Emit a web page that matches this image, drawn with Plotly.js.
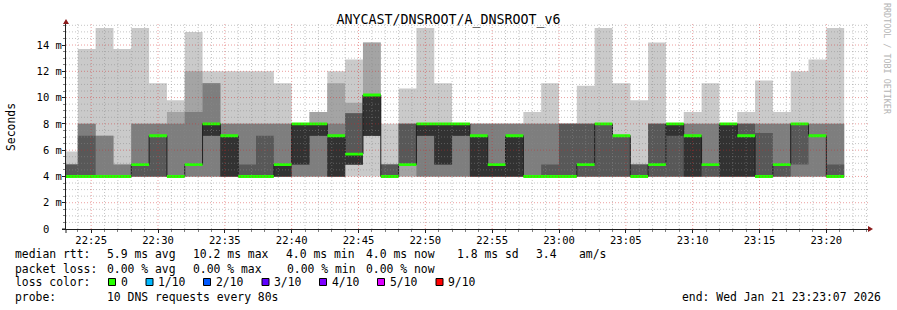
<!DOCTYPE html>
<html>
<head>
<meta charset="utf-8">
<script src="https://cdn.plot.ly/plotly-3.0.1.min.js"></script>
<style>
html,body{margin:0;padding:0;background:#ffffff;}
#chart{width:897px;height:310px;}
</style>
</head>
<body>
<div id="chart"></div>
<script>
// ---------------- data ----------------
const chartTitle = 'ANYCAST/DNSROOT/A_DNSROOT_v6';
const firstIntervalStart = '2026-01-21T22:22:40Z';
const stepSeconds = 80;
const viewStart = '2026-01-21T22:23:07Z';
const viewEnd = '2026-01-21T23:23:07Z';

// ten sorted DNS round-trip times (ms) per 80 s interval, rank 1 (fastest) .. rank 10 (slowest)
const ping1 = [4,4,4,4,4,4,4,4,4,4,4,4,4,4,4,4,4,4,4,4,4,4,4,4,4,4,4,4,4,4,4,4,4,4,4,4,4,4,4,4,4,4,4,4];
const ping2 = [4,4,4,4,4,4,4,4,4,4,4,4,4,4,4,4,4.9,7.1,4,4,4,4,4,4,4,4,4,4,4,4,4,4,4,4,4,4,4,4,4,4,4,4,4,4];
const ping3 = [4,4,4,4,4,4,4,4,4,4,4,4,4,4,4,4,4.9,7.1,4,4.9,4,4,4,4,4,4,4,4,4,4,4,4,4,4,4,4,4,4,4,4,4,4,4,4];
const ping4 = [4,4,4,4,4,4,4,4.9,7.1,4,4,4,4,4.9,7.1,4,4.9,7.1,4,4.9,7.1,4.9,7.1,4,4,4,4,4,4,4,4,4,4,4,4,4,4,4,4,4,4,4.9,7.1,4];
const ping5 = [4,4,4,4,4.9,7.1,4,4.9,7.1,4,4,4,4,4.9,7.1,4,4.9,7.1,4,4.9,7.1,4.9,7.1,4,4,4,4,4,4,4.9,8,7.1,4,4.9,7.1,4,4.9,4,4,4,4.9,8,7.1,4];
const ping6 = [4,4,4,4,4.9,7.1,4,4.9,8,7.1,4,4,4.9,8,8,7.1,5.7,10.2,4,4.9,8,8,8,7.1,4.9,7.1,4,4,4,4.9,8,7.1,4,4.9,8,7.1,4.9,8,7.1,4,4.9,8,7.1,4];
const ping7 = [4.9,7.1,4,4,4.9,7.1,4,4.9,8,7.1,4.9,7.1,4.9,8,8,7.1,8.8,10.2,4.9,8,8,8,8,7.1,4.9,7.1,4,4.9,8,8,8,7.1,4.9,8,8,7.1,4.9,8,8,7.3,4.9,8,7.1,4.9];
const ping8 = [4.9,8,7.1,4.9,8,8,8,8.9,11.1,8,8,8,8,8,8,8,8.8,10.2,4.9,8,8,8,8,8,8,8,8,8,8,8,8,7.1,4.9,8,8,8,8,8,8,8,8,8,8,8];
const ping9 = [4.9,8,7.1,4.9,8,8,8.9,12,11.1,8,8,8,8,8,8.9,11.1,9.6,14.2,4.9,8,8,8,8,8,8,8,8,8,8,8,8,7.1,4.9,8,8,8,8,8,8,8,8,8,8,8];
const ping10 = [5.9,13.7,15.3,13.7,15.3,11.1,9.8,15.0,12,12,12,12,11.1,8,8.9,12,12.9,14.2,8,10.7,15.3,11.1,8,8,8,8,8.9,11.1,8,10.9,15.3,11.1,9.8,14.2,8,8.9,11.1,8,8.9,11.3,8.9,12,12.9,15.3];
// median rtt (ms) per interval
const medianRtt = [4,4,4,4,4.9,7.1,4,4.9,8,7.1,4,4,4.9,8,8,7.1,5.7,10.2,4,4.9,8,8,8,7.1,4.9,7.1,4,4,4,4.9,8,7.1,4,4.9,8,7.1,4.9,8,7.1,4,4.9,8,7.1,4];

const yTickLabels = ['0\u00a0\u00a0','2 m','4 m','6 m','8 m','10 m','12 m','14 m'];

const rttStatValues = ['5.9','10.2','4.0','4.0','1.8'];
const rttStatUnits = ['ms avg','ms max','ms min','ms now','ms sd'];
const amPerSecond = '3.4';
const lossStatValues = ['0.00','0.00','0.00','0.00'];
const lossStatUnits = ['% avg','% max','% min','% now'];
const lossLabels = ['0','1/10','2/10','3/10','4/10','5/10','9/10'];
const lossColors = ['#26ff00','#00b8ff','#0059ff','#5e00ff','#7e00ff','#dd00ff','#ff0000'];
const probeText = '10 DNS requests every 80s';
const endText = 'end: Wed Jan 21 23:23:07 2026';
const creditText = 'RRDTOOL / TOBI OETIKER';

// ---------------- layout constants ----------------
const W = 897, H = 310;
const ML = 66, MR = 29, MT = 24, MB = 81;
const PW = W - ML - MR, PH = H - MT - MB;
const yMax = 15.6;
const FONT = 'DejaVu Sans Mono';
const px2x = px => (px - ML) / PW;
const py2y = py => (H - MB - py) / PH;

const smokeColors = ['#cacaca','#a4a4a4','#7e7e7e','#585858','#323232'];
const medianHalfWidth = 0.11;

// ---------------- traces ----------------
const t0 = Date.parse(firstIntervalStart);
const nIv = ping1.length;
const xs = [];
for (let i = 0; i <= nIv; i++) xs.push(t0 + i * stepSeconds * 1000);
const ext = a => a.concat([a[a.length - 1]]);

const pings = [ping1,ping2,ping3,ping4,ping5,ping6,ping7,ping8,ping9,ping10];
const traces = [];
const base = {x: xs, type: 'scatter', mode: 'lines', hoverinfo: 'skip', showlegend: false};
for (let b = 0; b < 5; b++) {
  traces.push(Object.assign({}, base, {y: ext(pings[b]), line: {width: 0, shape: 'hv'}}));
  traces.push(Object.assign({}, base, {y: ext(pings[9 - b]), line: {width: 0, shape: 'hv'},
    fill: 'tonexty', fillcolor: smokeColors[b]}));
}
traces.push(Object.assign({}, base, {y: ext(medianRtt), line: {width: 1, shape: 'hv', color: '#202020'}}));
traces.push(Object.assign({}, base, {y: ext(medianRtt.map(v => v - medianHalfWidth)), line: {width: 0, shape: 'hv'}}));
traces.push(Object.assign({}, base, {y: ext(medianRtt.map(v => v + medianHalfWidth)), line: {width: 0, shape: 'hv'},
  fill: 'tonexty', fillcolor: lossColors[0]}));

// ---------------- grid (drawn above data, as rrdtool does) ----------------
const minorGrid = 'rgba(140,140,140,0.5)';
const majorGrid = 'rgba(210,40,40,0.45)';
const shapes = [];
for (let k = 1; k * 0.5 <= yMax; k++) {
  const v = k * 0.5;
  shapes.push({type: 'line', xref: 'paper', x0: 0, x1: 1, yref: 'y', y0: v, y1: v, layer: 'above',
    line: {color: k % 4 === 0 ? majorGrid : minorGrid, width: 1, dash: '1px,2px'}});
}
const r0 = Date.parse(viewStart), r1 = Date.parse(viewEnd);
for (let t = Math.ceil(r0 / 60000) * 60000; t <= r1; t += 60000) {
  const major = (t / 60000) % 5 === 0;
  shapes.push({type: 'line', yref: 'paper', y0: 0, y1: 1, xref: 'x', x0: t, x1: t, layer: 'above',
    line: {color: major ? majorGrid : minorGrid, width: 1, dash: '1px,2px'}});
}
// axis overshoots and arrows
shapes.push({type: 'line', xref: 'paper', xsizemode: 'pixel', xanchor: 0, x0: -4, x1: 0,
  yref: 'paper', y0: 0, y1: 0, line: {color: '#202020', width: 1}, layer: 'above'});
shapes.push({type: 'line', yref: 'paper', ysizemode: 'pixel', yanchor: 0, y0: -4, y1: 0,
  xref: 'paper', x0: 0, x1: 0, line: {color: '#202020', width: 1}, layer: 'above'});
shapes.push({type: 'line', yref: 'paper', ysizemode: 'pixel', yanchor: 1, y0: 0, y1: 2,
  xref: 'paper', x0: 0, x1: 0, line: {color: '#202020', width: 1}, layer: 'above'});
shapes.push({type: 'path', xref: 'paper', xsizemode: 'pixel', xanchor: 0, yref: 'paper', ysizemode: 'pixel', yanchor: 1,
  path: 'M-3,0 L3,0 L0,5 Z', fillcolor: '#8b1a1a', line: {width: 0}, layer: 'above'});
shapes.push({type: 'path', xref: 'paper', xsizemode: 'pixel', xanchor: 1, yref: 'paper', ysizemode: 'pixel', yanchor: 0,
  path: 'M0,-3 L0,3 L5,0 Z', fillcolor: '#8b1a1a', line: {width: 0}, layer: 'above'});

// ---------------- legend text ----------------
const annotations = [];
function txt(s, px, py, opts) {
  annotations.push(Object.assign({text: s, xref: 'paper', yref: 'paper', x: px2x(px), y: py2y(py),
    xanchor: 'left', yanchor: 'middle', showarrow: false, borderpad: 0, borderwidth: 0,
    font: {family: FONT, size: 11.4, color: '#000'}}, opts || {}));
}
const row = [254, 268.5, 282, 296.5];
txt('median rtt:', 15.5, row[0]);
const rttX = [106.5, 192.5, 286, 365.5, 456.5];
rttStatValues.forEach((v, i) => txt(v + ' ' + rttStatUnits[i], rttX[i], row[0]));
txt(amPerSecond, 536, row[0]);
txt('am/s', 578.5, row[0]);
txt('packet loss:', 15.5, row[1]);
const lossX = [106.5, 192.5, 286.5, 365.5];
lossStatValues.forEach((v, i) => txt(v + ' ' + lossStatUnits[i], lossX[i], row[1]));
txt('loss color:', 15.5, row[2]);
const boxX = [108.5, 146, 203.5, 262, 319.5, 377.5, 436];
lossLabels.forEach((l, i) => {
  txt(l, boxX[i] + 12, row[2]);
  shapes.push({type: 'rect', xref: 'paper', yref: 'paper',
    x0: px2x(boxX[i]), x1: px2x(boxX[i] + 7), y0: py2y(row[2] + 3.5), y1: py2y(row[2] - 3.5),
    fillcolor: lossColors[i], line: {color: '#000', width: 1}, layer: 'above'});
});
txt('probe:', 15.5, row[3]);
txt(probeText, 106.5, row[3]);
txt(endText, 881, row[3], {xanchor: 'right'});
txt('Seconds', 11, 127, {xanchor: 'center', textangle: -90});
txt(creditText, 887, 59, {xanchor: 'center', textangle: 90, font: {family: FONT, size: 8.4, color: '#b4b4b4'}});

// ---------------- layout ----------------
const layout = {
  width: W, height: H,
  margin: {l: ML, r: MR, t: MT, b: MB, pad: 0},
  paper_bgcolor: '#ffffff', plot_bgcolor: '#ffffff',
  showlegend: false,
  title: {text: chartTitle, font: {family: FONT, size: 13.3, color: '#000'},
    x: 0.5, xref: 'container', xanchor: 'center', y: 1 - 19.5 / H, yref: 'container', yanchor: 'middle'},
  xaxis: {type: 'date', range: [r0, r1], tickformat: '%H:%M', dtick: 300000,
    tick0: Date.parse('2026-01-21T22:25:00Z'), showgrid: false, zeroline: false,
    showline: true, linecolor: '#202020', linewidth: 1,
    ticks: 'outside', ticklen: 3, tickcolor: '#202020', ticklabelstandoff: -2,
    minor: {dtick: 60000, ticks: 'outside', ticklen: 2, tickcolor: '#808080', showgrid: false},
    tickfont: {family: FONT, size: 10.5, color: '#000'}, fixedrange: true},
  yaxis: {range: [0, yMax], tickmode: 'array', tickvals: yTickLabels.map((_, i) => i * 2), ticktext: yTickLabels,
    showgrid: false, zeroline: false, showline: true, linecolor: '#202020', linewidth: 1,
    ticks: 'outside', ticklen: 3, tickcolor: '#202020', ticklabelstandoff: -2,
    minor: {dtick: 0.5, ticks: 'outside', ticklen: 2, tickcolor: '#808080', showgrid: false},
    tickfont: {family: FONT, size: 10.5, color: '#000'}, fixedrange: true},
  shapes: shapes,
  annotations: annotations
};

Plotly.newPlot('chart', traces, layout, {staticPlot: true, displayModeBar: false});
</script>
</body>
</html>
